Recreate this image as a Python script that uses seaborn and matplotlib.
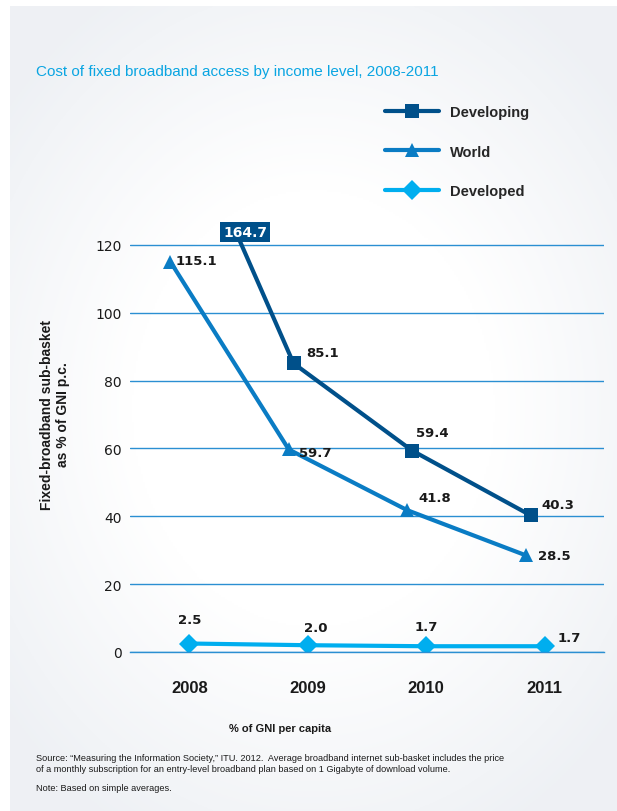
import numpy as np
import pandas as pd

import matplotlib
matplotlib.use("Agg")
import matplotlib.pyplot as plt
import seaborn as sns


# ==========================================================
# DATA
# ==========================================================

years = ["2008", "2009", "2010", "2011"]

series_names = ["Developing", "World", "Developed"]

developing = [164.7, 85.1, 59.4, 40.3]
world = [115.1, 59.7, 41.8, 28.5]
developed = [2.5, 2.0, 1.7, 1.7]

y_ticks = [0, 20, 40, 60, 80, 100, 120]

title = "Cost of fixed broadband access by income level, 2008-2011"
y_label = "Fixed-broadband sub-basket\nas % of GNI p.c."
x_label = "% of GNI per capita"
source_text = (
    "Source: \u201cMeasuring the Information Society,\u201d ITU. 2012.  "
    "Average broadband internet sub-basket includes the price\n"
    "of a monthly subscription for an entry-level broadband plan "
    "based on 1 Gigabyte of download volume."
)
note_text = "Note: Based on simple averages."


# ==========================================================
# STYLE
# ==========================================================

colors = {
    "Developing": "#00508a",
    "World": "#0a7cc4",
    "Developed": "#00aeef",
}

markers = {
    "Developing": "s",
    "World": "^",
    "Developed": "D",
}

# small sideways shift of each series, as in the original layout
x_shift = {
    "Developing": -0.12,
    "World": -0.16,
    "Developed": 0.0,
}

# label offsets (points) and alignment per series / year
label_pos = {
    "Developing": [(0, 0, "center"), (9, 8, "left"), (3, 13, "left"), (8, 8, "left")],
    "World": [(4, 1, "left"), (7, -2, "left"), (8, 9, "left"), (9, 0, "left")],
    "Developed": [(0, 17, "center"), (6, 13, "center"), (0, 14, "center"), (9, 6, "left")],
}

GRID_BLUE = "#2b8fd2"
TEXT_DARK = "#1a1a1a"
NARROW = ["Liberation Sans", "DejaVu Sans"]
WIDE = ["DejaVu Sans"]

sns.set_theme(style="white")
plt.rcParams["font.family"] = NARROW


# ==========================================================
# LONG FORM TABLE
# ==========================================================

values = {
    "Developing": developing,
    "World": world,
    "Developed": developed,
}

rows = []
for name in series_names:
    for i, year in enumerate(years):
        rows.append({
            "series": name,
            "year": year,
            "xpos": i + x_shift[name],
            "value": values[name][i],
        })

df = pd.DataFrame(rows)


# ==========================================================
# FIGURE
# ==========================================================

W, H = 617, 812

fig = plt.figure(
    figsize=(W / 100, H / 100),
    dpi=100
)

fig.patch.set_facecolor("white")

# soft grey panel with a white centre
bg = fig.add_axes([10 / W, 0, 1 - 10 / W, 1 - 7 / H])
gx, gy = np.meshgrid(
    np.linspace(-1, 1, 300),
    np.linspace(-1, 1, 400)
)
r = np.sqrt((gx * 1.0) ** 2 + (gy * 1.1) ** 2)
shade = np.clip((r - 0.6) / 0.7, 0, 1)
c_in = np.array([1.0, 1.0, 1.0])
c_out = np.array([0.935, 0.945, 0.96])
img = c_in[None, None, :] + shade[..., None] * (c_out - c_in)[None, None, :]
bg.imshow(img, aspect="auto", extent=[0, 1, 0, 1])
bg.set_axis_off()

ax = fig.add_axes([
    130 / W,
    (H - 653) / H,
    (604 - 130) / W,
    (653 - 229) / H
])
ax.patch.set_alpha(0)

sns.lineplot(
    data=df,
    x="xpos",
    y="value",
    hue="series",
    style="series",
    hue_order=series_names,
    style_order=series_names,
    palette=colors,
    markers=markers,
    dashes=False,
    linewidth=3,
    markersize=10,
    markeredgewidth=0,
    legend=True,
    ax=ax
)

ax.set_xlim(-0.5, 3.5)
ax.set_ylim(0, 125)

# ----------------------------------------------------------
# AXES
# ----------------------------------------------------------

ax.set_yticks(y_ticks)
ax.set_yticklabels([str(v) for v in y_ticks], family=WIDE, fontsize=10, color=TEXT_DARK)
ax.yaxis.grid(True, color=GRID_BLUE, linewidth=1)
ax.xaxis.grid(False)

ax.set_xticks(range(len(years)))
ax.set_xticklabels(years, family=NARROW, fontsize=12, fontweight="bold", color=TEXT_DARK)
ax.set_xticks([i + 0.5 for i in range(len(years))], minor=True)

ax.tick_params(axis="y", length=0, pad=6)
ax.tick_params(axis="x", which="major", length=0, pad=20)
ax.tick_params(axis="x", which="minor", length=12, width=1, color=GRID_BLUE, direction="out")

for side in ["left", "top", "right"]:
    ax.spines[side].set_visible(False)
ax.spines["bottom"].set_color(GRID_BLUE)
ax.spines["bottom"].set_linewidth(1)

ax.set_xlabel("")
ax.set_ylabel("")

# ----------------------------------------------------------
# VALUE LABELS
# ----------------------------------------------------------

y_top = ax.get_ylim()[1]

for name in series_names:
    for i, v in enumerate(values[name]):
        x = i + x_shift[name]
        dx, dy, ha = label_pos[name][i]
        if v > y_top:
            # the line leaves the plot: put the value in a box where it exits
            x_next = (i + 1) + x_shift[name]
            v_next = values[name][i + 1]
            x_cross = x + (v - y_top) / (v - v_next) * (x_next - x)
            ax.annotate(
                f"{v:.1f}",
                xy=(x_cross, y_top),
                xytext=(8, -3),
                textcoords="offset points",
                ha="center",
                va="center",
                family=WIDE,
                fontsize=10,
                fontweight="bold",
                color="white",
                annotation_clip=False,
                bbox=dict(boxstyle="square,pad=0.2", facecolor=colors[name], edgecolor="none"),
                zorder=10
            )
            continue
        ax.annotate(
            f"{v:.1f}",
            xy=(x, v),
            xytext=(dx, dy),
            textcoords="offset points",
            ha=ha,
            va="center",
            family=WIDE,
            fontsize=9.5,
            fontweight="bold",
            color=TEXT_DARK,
            annotation_clip=False
        )

# ----------------------------------------------------------
# LEGEND
# ----------------------------------------------------------

handles, labels = ax.get_legend_handles_labels()
ax.get_legend().remove()

keep = [(h, l) for h, l in zip(handles, labels) if l in series_names]
for h, l in keep:
    h.set_linewidth(3)
    h.set_markersize(10)
    h.set_markeredgewidth(0)

fig.legend(
    [h for h, l in keep],
    [l for h, l in keep],
    loc="upper left",
    bbox_to_anchor=(385 / W, 1 - 106 / H),
    bbox_transform=fig.transFigure,
    frameon=False,
    prop=dict(family=NARROW, weight="bold", size=10.5),
    labelspacing=1.75,
    handlelength=3.7,
    handletextpad=0.75,
    borderpad=0,
    borderaxespad=0
)

# ----------------------------------------------------------
# TEXTS
# ----------------------------------------------------------

fig.text(
    36 / W, 1 - 72 / H,
    title,
    ha="left", va="center",
    family=NARROW, fontsize=11,
    color="#0aa5e2"
)

fig.text(
    55 / W, 1 - 415 / H,
    y_label,
    ha="center", va="center",
    rotation=90,
    family=NARROW, fontsize=10, fontweight="bold",
    color=TEXT_DARK,
    linespacing=1.15
)

fig.text(
    280 / W, 1 - 729 / H,
    x_label,
    ha="center", va="center",
    family=NARROW, fontsize=8, fontweight="bold",
    color=TEXT_DARK
)

fig.text(
    36 / W, 1 - 764 / H,
    source_text,
    ha="left", va="center",
    family=NARROW, fontsize=6.6,
    color=TEXT_DARK,
    linespacing=1.4
)

fig.text(
    36 / W, 1 - 789 / H,
    note_text,
    ha="left", va="center",
    family=NARROW, fontsize=6.6,
    color=TEXT_DARK
)

fig.savefig("out.png", dpi=100)
plt.close(fig)
